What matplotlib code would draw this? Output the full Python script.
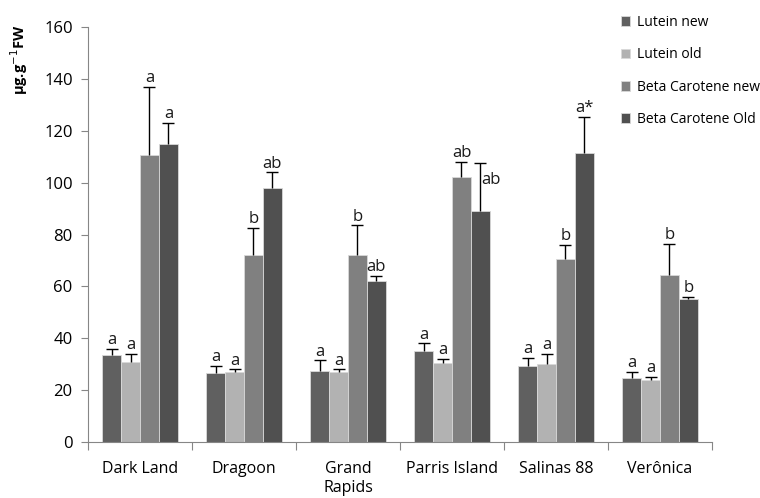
import numpy as np
import matplotlib.pyplot as plt

plt.rcParams['font.family'] = ['Open Sans', 'DejaVu Sans']

cultivars = ["Dark Land", "Dragoon", "Grand\nRapids", "Parris Island", "Salinas 88", "Verônica"]
series = ["Lutein new", "Lutein old", "Beta Carotene new", "Beta Carotene Old"]

lutein_new = [33.5, 26.5, 27.5, 35.0, 29.5, 24.5]
lutein_old = [31.0, 27.0, 27.0, 30.5, 30.0, 24.0]
beta_new = [110.5, 72.0, 72.0, 102.0, 70.5, 64.5]
beta_old = [115.0, 98.0, 62.0, 89.0, 111.5, 55.0]

lutein_new_err = [2.5, 3.0, 4.0, 3.0, 3.0, 2.5]
lutein_old_err = [3.0, 1.0, 1.0, 1.5, 4.0, 1.0]
beta_new_err = [26.5, 10.5, 11.5, 6.0, 5.5, 12.0]
beta_old_err = [8.0, 6.0, 2.0, 18.5, 14.0, 1.0]

letters_lutein_new = ["a", "a", "a", "a", "a", "a"]
letters_lutein_old = ["a", "a", "a", "a", "a", "a"]
letters_beta_new = ["a", "b", "b", "ab", "b", "b"]
letters_beta_old = ["a", "ab", "ab", "ab", "a*", "b"]

colors = ["#606060", "#b2b2b2", "#808080", "#505050"]

values = [lutein_new, lutein_old, beta_new, beta_old]
errors = [lutein_new_err, lutein_old_err, beta_new_err, beta_old_err]
letters = [letters_lutein_new, letters_lutein_old, letters_beta_new, letters_beta_old]

fig = plt.figure(figsize=(7.6, 4.98), dpi=100)
ax = fig.add_axes([0.1158, 0.1124, 0.821, 0.8333])

x = np.arange(len(cultivars))
w = 0.182
for i, (vals, errs, labs) in enumerate(zip(values, errors, letters)):
    pos = x + (i - 1.5) * w
    ax.bar(pos, vals, w, color=colors[i], edgecolor="#d9d9d9", linewidth=0.6,
           label=series[i], zorder=2)
    eb = ax.errorbar(pos, vals, yerr=[np.zeros(len(vals)), errs], fmt="none",
                     ecolor="black", elinewidth=1, capsize=4, capthick=1, zorder=3)
    # only the upper cap is wanted
    eb[1][0].set_visible(False)
    for j, (p, v, e, t) in enumerate(zip(pos, vals, errs, labs)):
        # label beside the tall error bar for Parris Island
        if i == 3 and j == 3:
            ax.text(p + 0.01, v + e - 6.5, t, ha="left", va="center",
                    fontsize=12, color="#1a1a1a")
        else:
            ax.text(p, v + e + 0.3, t, ha="center", va="bottom",
                    fontsize=12, color="#1a1a1a")

ax.set_xlim(-0.5, len(cultivars) - 0.5)
ax.set_ylim(0, 160)
ax.set_yticks(np.arange(0, 161, 20))
ax.set_xticks(np.arange(-0.5, len(cultivars), 1))
ax.set_xticklabels([])
ax.set_xticks(x, minor=True)
ax.set_xticklabels(cultivars, minor=True, fontsize=11.5)
ax.tick_params(axis="x", which="minor", length=0, pad=14)
ax.tick_params(axis="x", which="major", length=6, color="#868686", direction="out")
ax.tick_params(axis="y", length=5, color="#868686", labelsize=12, pad=6)

for s in ["top", "right"]:
    ax.spines[s].set_visible(False)
for s in ["left", "bottom"]:
    ax.spines[s].set_color("#868686")

fig.text(0.025, 0.95, "µg.g$^{-1}$FW", rotation=90, ha="center", va="top",
         fontsize=10.5, fontweight="bold")

leg = fig.legend(loc="upper left", bbox_to_anchor=(0.8, 0.995), frameon=False,
                 fontsize=10, handlelength=0.7, handleheight=0.7,
                 handletextpad=0.5, labelspacing=1.25)

fig.savefig("out.png", dpi=100)
